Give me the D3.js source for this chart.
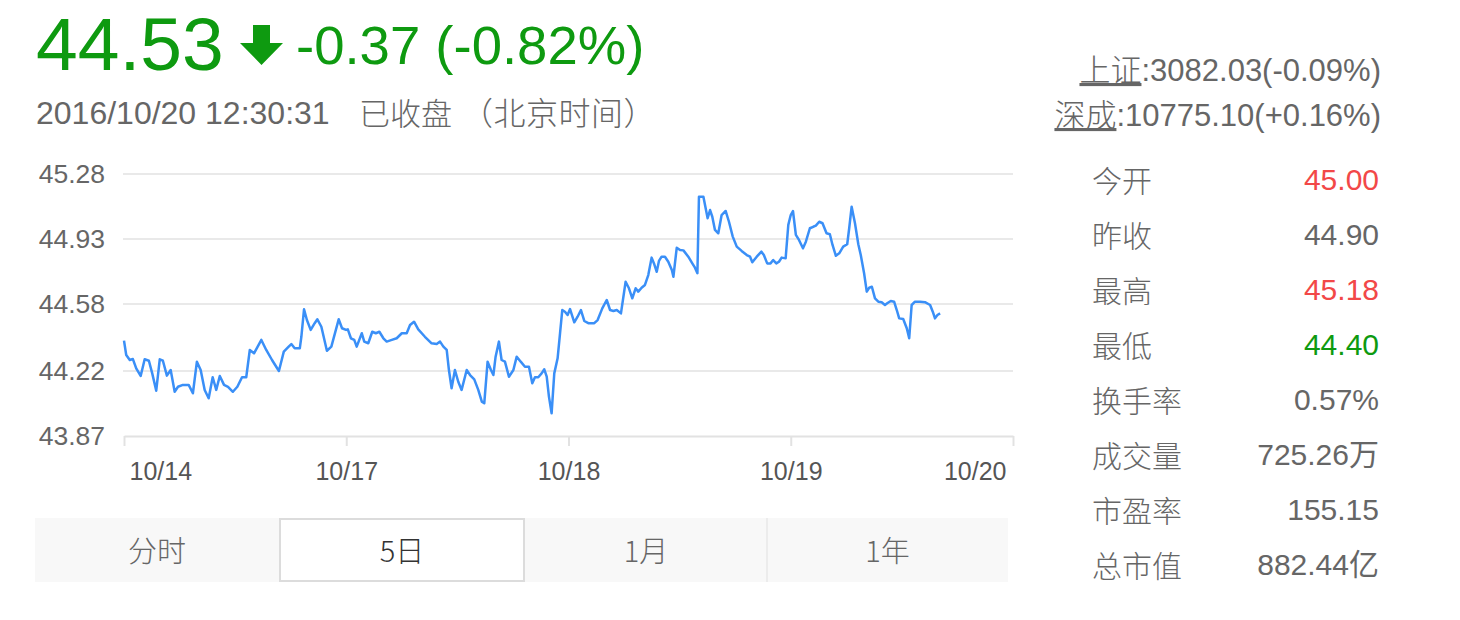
<!DOCTYPE html>
<html>
<head>
<meta charset="utf-8">
<script src="https://cdn.jsdelivr.net/npm/d3@7/dist/d3.min.js"></script>
<style>
  html, body { margin: 0; padding: 0; background: #fff; }
  svg { display: block; }
</style>
</head>
<body>
<svg id="chart" width="1460" height="620"></svg>
<script>
// ---------------- data ----------------
const lastPrice = "44.53";
const changeText = "-0.37 (-0.82%)";
const timeText = "2016/10/20 12:30:31";
const statusText = "已收盘";
const zoneText = "（北京时间）";

const indexNames = ["上证", "深成"];
const indexValues = [":3082.03(-0.09%)", ":10775.10(+0.16%)"];

const statLabels = ["今开", "昨收", "最高", "最低", "换手率", "成交量", "市盈率", "总市值"];
const statValues = ["45.00", "44.90", "45.18", "44.40", "0.57%", "725.26万", "155.15", "882.44亿"];
const statColors = ["up", "flat", "up", "down", "flat", "flat", "flat", "flat"];

const tabLabels = ["分时", "5日", "1月", "1年"];
const activeTab = 1;

const xTickLabels = ["10/14", "10/17", "10/18", "10/19", "10/20"];
const yTickValues = [45.28, 44.93, 44.58, 44.22, 43.87];

// time in trading days from the first session, price in yuan
const times = [
  0.000,0.010,0.026,0.040,0.055,0.075,0.093,0.112,0.127,0.145,0.161,0.175,0.193,0.210,0.228,0.243,0.265,0.291,0.310,0.328,
  0.345,0.363,0.381,0.399,0.415,0.431,0.450,0.468,0.490,0.510,0.531,0.550,0.566,0.585,0.618,0.640,0.666,0.697,0.719,0.741,
  0.753,0.768,0.791,0.798,0.810,0.823,0.840,0.858,0.870,0.888,0.913,0.933,0.966,0.981,0.999,
  1.007,1.021,1.036,1.047,1.070,1.081,1.099,1.117,1.133,1.149,1.167,1.182,1.205,1.227,1.250,1.272,1.287,1.305,1.324,1.354,
  1.384,1.407,1.422,1.437,1.452,1.462,1.474,1.489,1.504,1.519,1.542,1.557,1.576,1.594,1.610,1.621,1.636,1.651,1.662,1.672,
  1.687,1.699,1.714,1.732,1.752,1.767,1.785,1.804,1.822,1.837,1.849,1.864,1.879,1.891,1.902,1.912,1.924,1.936,1.951,1.962,
  1.972,1.984,1.996,
  2.007,2.026,2.041,2.056,2.071,2.089,2.116,2.131,2.152,2.172,2.187,2.202,2.217,2.236,2.257,2.272,2.287,2.302,2.314,2.329,
  2.344,2.359,2.374,2.386,2.397,2.407,2.419,2.434,2.449,2.465,2.472,2.487,2.502,2.517,2.539,2.557,2.569,2.580,2.587,2.607,
  2.626,2.637,2.647,2.659,2.674,2.689,2.707,2.722,2.739,2.757,2.779,2.802,2.817,2.827,2.847,2.868,2.879,2.894,2.909,2.921,
  2.935,2.947,2.959,2.977,2.989,
  3.000,3.010,3.023,3.037,3.055,3.068,3.086,3.101,3.113,3.128,3.143,3.161,3.176,3.188,3.203,3.218,3.236,3.254,3.263,3.274,
  3.289,3.304,3.315,3.330,3.342,3.353,3.365,3.379,3.394,3.409,3.424,3.434,3.450,3.465,3.477,3.488,3.506,3.522,3.533,3.544,
  3.559,3.582,3.604,3.627,3.639,3.649,3.660,3.672
];
const prices = [
  44.383,44.306,44.279,44.284,44.234,44.193,44.283,44.275,44.207,44.114,44.283,44.275,44.195,44.225,44.108,44.135,44.145,44.145,44.100,44.270,
  44.225,44.118,44.073,44.186,44.118,44.193,44.145,44.135,44.108,44.135,44.186,44.186,44.333,44.315,44.387,44.333,44.279,44.220,44.324,44.351,
  44.365,44.342,44.342,44.404,44.552,44.494,44.441,44.477,44.498,44.458,44.329,44.351,44.498,44.450,44.441,
  44.444,44.396,44.387,44.351,44.423,44.378,44.369,44.431,44.423,44.431,44.396,44.378,44.387,44.396,44.423,44.423,44.467,44.485,44.444,44.404,
  44.369,44.365,44.378,44.351,44.333,44.225,44.127,44.225,44.162,44.118,44.225,44.198,44.175,44.118,44.055,44.046,44.270,44.225,44.198,44.297,
  44.378,44.279,44.270,44.189,44.225,44.297,44.270,44.243,44.243,44.154,44.186,44.186,44.207,44.229,44.189,44.082,43.992,44.207,44.288,44.423,
  44.548,44.539,44.521,
  44.553,44.482,44.512,44.548,44.489,44.477,44.477,44.494,44.557,44.602,44.548,44.543,44.548,44.530,44.700,44.665,44.611,44.665,44.647,44.668,
  44.683,44.736,44.830,44.794,44.754,44.812,44.835,44.835,44.808,44.763,44.727,44.883,44.871,44.869,44.835,44.799,44.776,44.746,45.158,45.158,
  45.042,45.086,45.050,44.979,44.961,45.059,45.081,45.023,44.943,44.889,44.866,44.844,44.835,44.805,44.835,44.862,44.844,44.799,44.799,44.817,
  44.799,44.808,44.830,44.826,45.006,
  45.059,45.081,44.952,44.925,44.880,44.916,44.988,44.996,45.002,45.023,45.015,44.961,44.956,44.898,44.840,44.853,44.889,44.902,44.988,45.104,
  45.015,44.902,44.844,44.746,44.647,44.668,44.673,44.611,44.593,44.590,44.575,44.584,44.597,44.593,44.548,44.503,44.500,44.450,44.396,44.575,
  44.593,44.593,44.590,44.575,44.539,44.503,44.521,44.530
];

// ---------------- styles ----------------
const GREEN = "#0e9a10";
const RED = "#f24848";
const GRAY = "#666666";
const LATIN = "'Liberation Sans', Arial, 'Noto Sans CJK SC', sans-serif";
const CJK = "'Noto Sans CJK SC', 'Liberation Sans', sans-serif";
const colorOf = { up: RED, down: GREEN, flat: GRAY };

const svg = d3.select("#chart");

// ---------------- header ----------------
svg.append("text").attr("x", 36).attr("y", 70)
  .attr("font-family", LATIN).attr("font-size", 75).attr("fill", GREEN)
  .text(lastPrice);

// down arrow
const arrow = d3.path();
arrow.moveTo(253, 25); arrow.lineTo(270, 25); arrow.lineTo(270, 43);
arrow.lineTo(283, 43); arrow.lineTo(261.5, 65); arrow.lineTo(240, 43);
arrow.lineTo(253, 43); arrow.closePath();
svg.append("path").attr("d", arrow.toString()).attr("fill", GREEN);

svg.append("text").attr("x", 296).attr("y", 64)
  .attr("font-family", LATIN).attr("font-size", 54.5).attr("fill", GREEN)
  .text(changeText);

svg.append("text").attr("x", 36).attr("y", 124)
  .attr("font-family", LATIN).attr("font-size", 32).attr("fill", GRAY)
  .text(timeText);
svg.append("text").attr("x", 359).attr("y", 125)
  .attr("font-family", CJK).attr("font-size", 31).attr("font-weight", 300).attr("fill", GRAY)
  .text(statusText);
svg.append("text").attr("x", 461).attr("y", 125)
  .attr("font-family", CJK).attr("font-size", 32).attr("font-weight", 300).attr("fill", GRAY)
  .attr("letter-spacing", 0.5)
  .text(zoneText);

// index quotes, right aligned
const idxBase = [81, 126];
indexNames.forEach((n, i) => {
  const t = svg.append("text").attr("x", 1381).attr("y", idxBase[i])
    .attr("text-anchor", "end").attr("font-family", LATIN).attr("font-size", 31).attr("fill", GRAY);
  t.append("tspan").attr("font-family", CJK).attr("font-weight", 300)
    .attr("text-decoration", "underline").text(n);
  t.append("tspan").text(indexValues[i]);
});

// stats table
statLabels.forEach((l, i) => {
  const y = 190 + i * 55;
  svg.append("text").attr("x", 1092).attr("y", y + 2)
    .attr("font-family", CJK).attr("font-size", 30).attr("font-weight", 300).attr("fill", GRAY)
    .text(l);
  svg.append("text").attr("x", 1379).attr("y", y)
    .attr("text-anchor", "end").attr("font-family", LATIN).attr("font-size", 30)
    .attr("fill", colorOf[statColors[i]]).text(statValues[i]);
});

// ---------------- chart ----------------
const x = d3.scaleLinear().domain([0, xTickLabels.length - 1]).range([124, 1013]);
const y = d3.scaleLinear().domain([43.87, 45.28]).range([436, 174]);

const grid = svg.append("g");
yTickValues.slice(0, -1).forEach(v => {
  grid.append("line").attr("x1", 123).attr("x2", 1013)
    .attr("y1", Math.round(y(v))).attr("y2", Math.round(y(v)))
    .attr("stroke", "#e9e9e9").attr("stroke-width", 2);
});
yTickValues.forEach(v => {
  svg.append("text").attr("x", 105).attr("y", y(v) + 9)
    .attr("text-anchor", "end").attr("font-family", LATIN).attr("font-size", 26.5).attr("fill", GRAY)
    .text(v.toFixed(2));
});

// x axis
const xAxis = d3.axisBottom(x).tickValues(d3.range(xTickLabels.length))
  .tickFormat(i => xTickLabels[i]).tickSize(10).tickSizeOuter(0);
const gx = svg.append("g").attr("transform", "translate(0,436)").call(xAxis);
gx.select(".domain").attr("stroke", "#e2e2e2").attr("stroke-width", 2);
gx.selectAll(".tick line").attr("stroke", "#e2e2e2").attr("stroke-width", 2);
gx.selectAll(".tick text").attr("font-family", LATIN).attr("font-size", 25).attr("fill", "#555")
  .attr("dy", 0).attr("y", 44)
  .attr("text-anchor", (d, i) => i === 0 ? "start" : (i === xTickLabels.length - 1 ? "end" : "middle"))
  .attr("dx", (d, i) => i === 0 ? 5 : (i === xTickLabels.length - 1 ? -7 : 0));

// price line
const line = d3.line().x((d, i) => x(times[i])).y(d => y(d));
svg.append("path").datum(prices)
  .attr("d", line).attr("fill", "none")
  .attr("stroke", "#3a8ff7").attr("stroke-width", 2.5).attr("stroke-linejoin", "round");

// ---------------- tabs ----------------
const tabEdges = [35, 279, 525, 767, 1008];
svg.append("rect").attr("x", tabEdges[0]).attr("y", 518)
  .attr("width", tabEdges[4] - tabEdges[0]).attr("height", 64).attr("fill", "#f8f8f8");
svg.append("line").attr("x1", tabEdges[3]).attr("x2", tabEdges[3]).attr("y1", 518).attr("y2", 582)
  .attr("stroke", "#ececec").attr("stroke-width", 2);
svg.append("rect").attr("x", tabEdges[activeTab] + 1).attr("y", 519)
  .attr("width", tabEdges[activeTab + 1] - tabEdges[activeTab] - 2).attr("height", 62)
  .attr("fill", "#fff").attr("stroke", "#dcdcdc").attr("stroke-width", 2);
tabLabels.forEach((t, i) => {
  svg.append("text").attr("x", (tabEdges[i] + tabEdges[i + 1]) / 2).attr("y", 562)
    .attr("text-anchor", "middle").attr("font-family", CJK).attr("font-size", 29)
    .attr("font-weight", 300).attr("fill", i === activeTab ? "#333" : GRAY)
    .text(t);
});
</script>
</body>
</html>
